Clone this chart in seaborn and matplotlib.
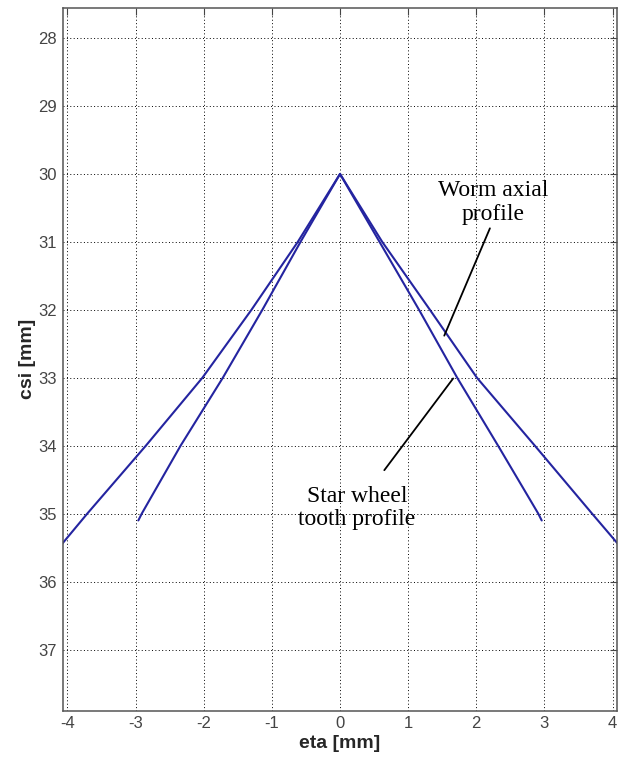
import pandas as pd
import numpy as np
import matplotlib
matplotlib.use("Agg")
import matplotlib.pyplot as plt
import seaborn as sns

# values (eta in mm, csi in mm)
worm_csi = [30, 31, 32, 33, 34, 35, 35.47]
worm_eta_right = [0, 0.62, 1.32, 2.01, 2.86, 3.70, 4.10]
worm_eta_left = [0, -0.62, -1.30, -2.02, -2.85, -3.71, -4.10]

star_csi = [30, 31, 32, 33, 34, 35, 35.1]
star_eta_right = [0, 0.58, 1.16, 1.72, 2.32, 2.91, 2.96]
star_eta_left = [0, -0.58, -1.14, -1.72, -2.34, -2.91, -2.96]

x_ticks = [-4, -3, -2, -1, 0, 1, 2, 3, 4]
y_ticks = [28, 29, 30, 31, 32, 33, 34, 35, 36, 37]

frames = []
for name, eta, csi in [("worm_r", worm_eta_right, worm_csi),
                       ("worm_l", worm_eta_left, worm_csi),
                       ("star_r", star_eta_right, star_csi),
                       ("star_l", star_eta_left, star_csi)]:
    frames.append(pd.DataFrame({"eta": eta, "csi": csi, "curve": name}))
df = pd.concat(frames, ignore_index=True)

sns.set_style("white")
plt.rcParams['font.family'] = ['Liberation Sans', 'DejaVu Sans']

fig = plt.figure(figsize=(6.22, 7.58), dpi=100)
ax = fig.add_axes([0.1008, 0.0624, 0.8917, 0.9277])

sns.lineplot(data=df, x="eta", y="csi", units="curve", estimator=None,
             sort=False, color="#2424a0", lw=1.5, ax=ax, legend=False)

ax.set_xlim(-4.07, 4.07)
ax.set_ylim(37.9, 27.55)
ax.set_xticks(x_ticks)
ax.set_yticks(y_ticks)
ax.set_xticklabels([str(v) for v in x_ticks], fontweight="normal")
ax.set_yticklabels([str(v) for v in y_ticks], fontweight="normal")

ax.grid(True, color="black", linestyle=(0, (1, 2.5)), lw=0.7)
ax.tick_params(direction="in", length=5, width=0.8, top=True, right=True,
               labelsize=12, labelcolor="#444444", color="#444444", pad=4)
for s in ax.spines.values():
    s.set_color("#555555")
    s.set_linewidth(1.1)

ax.set_xlabel("eta [mm]", fontsize=14, fontweight="bold", labelpad=3)
ax.set_ylabel("csi [mm]", fontsize=14, fontweight="bold", labelpad=2)

serif = ["Liberation Serif", "DejaVu Serif"]
ax.text(2.25, 30.42, "Worm axial\nprofile", ha="center", va="center",
        fontsize=17, family=serif, linespacing=1.15, color="black")
ax.text(0.25, 34.92, "Star wheel\ntooth profile", ha="center", va="center",
        fontsize=17, family=serif, linespacing=1.15, color="black")
ax.annotate("", xy=(1.53, 32.38), xytext=(2.20, 30.80),
            arrowprops=dict(arrowstyle="-", color="black", lw=1.3,
                            shrinkA=0, shrinkB=0))
ax.annotate("", xy=(1.66, 33.01), xytext=(0.65, 34.36),
            arrowprops=dict(arrowstyle="-", color="black", lw=1.3,
                            shrinkA=0, shrinkB=0))

fig.savefig("out.png", dpi=100)
